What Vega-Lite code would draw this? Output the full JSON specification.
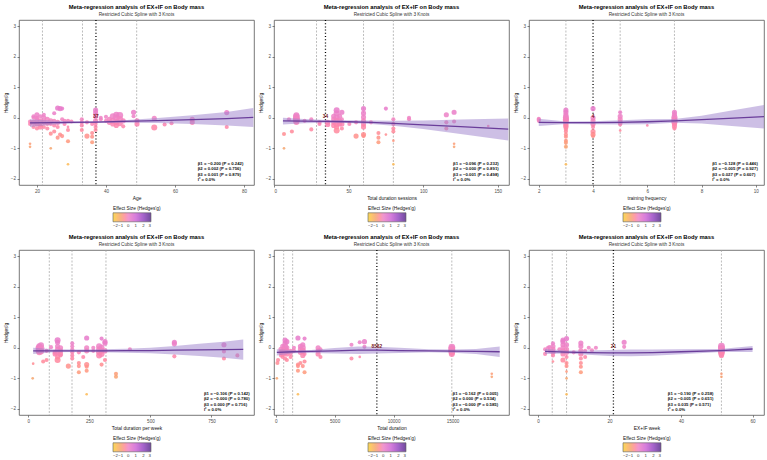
{
"$schema": "https://vega.github.io/schema/vega-lite/v6.json",
"padding": {"left": 2, "top": 3, "right": 0, "bottom": 0},
"config": {
 "font": "Liberation Sans",
 "view": {"stroke": "#555", "strokeWidth": 0.8},
 "axis": {"grid": false, "domain": false, "tickSize": 2, "tickColor": "#333", "tickWidth": 0.6, "labelFontSize": 4.6, "labelColor": "#4d4d4d", "titleFontSize": 4.9, "titleFontWeight": "normal", "titleColor": "#111", "labelPadding": 1.5, "titlePadding": 2, "labelOverlap": false, "labelBound": false},
 "axisY": {"values": [-2,-1,0,1,2,3], "tickCount": 6},
 "title": {"fontSize": 5.8, "fontWeight": "bold", "subtitleFontSize": 4.7, "subtitleColor": "#333", "offset": 3, "subtitlePadding": 2, "anchor": "middle"},
 "legend": {"titleFontSize": 4.8, "titleFontWeight": "normal", "labelFontSize": 4.3, "gradientStrokeColor": "#444", "gradientStrokeWidth": 0.6, "titlePadding": 2, "labelOffset": 1, "titleColor": "#111", "labelColor": "#333", "labelOverlap": false}
},
"datasets": {
"vl": [
 {"p":1,"x":21.6,"k":"knot"},{"p":1,"x":33.2,"k":"knot"},{"p":1,"x":48.9,"k":"knot"},{"p":1,"x":37.1,"k":"ref","lab":"37","y":0.01},
 {"p":2,"x":28.5,"k":"knot"},{"p":2,"x":60,"k":"knot"},{"p":2,"x":80,"k":"knot"},{"p":2,"x":34.5,"k":"ref","lab":"34","y":0.01},
 {"p":3,"x":3,"k":"knot"},{"p":3,"x":5,"k":"knot"},{"p":3,"x":7,"k":"knot"},{"p":3,"x":4,"k":"ref","lab":"4","y":0.01},
 {"p":4,"x":86,"k":"knot"},{"p":4,"x":179,"k":"knot"},{"p":4,"x":318,"k":"knot"},
 {"p":5,"x":680,"k":"knot"},{"p":5,"x":1440,"k":"knot"},{"p":5,"x":14940,"k":"knot"},{"p":5,"x":8582,"k":"ref","lab":"8582","y":0.01},
 {"p":6,"x":4,"k":"knot"},{"p":6,"x":8,"k":"knot"},{"p":6,"x":51.3,"k":"knot"},{"p":6,"x":21.1,"k":"ref","lab":"21","y":0.01}
],
"st": [
 {"p":1,"x":66.6,"y":-1.5,"t":"β1 = −0.200 (P = 0.242)"},{"p":1,"x":66.6,"y":-1.68,"t":"β2 = 0.002 (P = 0.756)"},{"p":1,"x":66.6,"y":-1.86,"t":"β3 = 0.001 (P = 0.879)"},{"p":1,"x":66.6,"y":-2.04,"t":"I² = 0.0%"},
 {"p":2,"x":120,"y":-1.5,"t":"β1 = −0.096 (P = 0.232)"},{"p":2,"x":120,"y":-1.68,"t":"β2 = −0.000 (P = 0.891)"},{"p":2,"x":120,"y":-1.86,"t":"β3 = −0.001 (P = 0.498)"},{"p":2,"x":120,"y":-2.04,"t":"I² = 0.0%"},
 {"p":3,"x":8.39,"y":-1.5,"t":"β1 = −0.128 (P = 0.446)"},{"p":3,"x":8.39,"y":-1.68,"t":"β2 = −0.005 (P = 0.927)"},{"p":3,"x":8.39,"y":-1.86,"t":"β3 = 0.027 (P = 0.607)"},{"p":3,"x":8.39,"y":-2.04,"t":"I² = 0.0%"},
 {"p":4,"x":719,"y":-1.5,"t":"β1 = −0.106 (P = 0.142)"},{"p":4,"x":719,"y":-1.68,"t":"β2 = −0.000 (P = 0.780)"},{"p":4,"x":719,"y":-1.86,"t":"β3 = 0.000 (P = 0.716)"},{"p":4,"x":719,"y":-2.04,"t":"I² = 0.0%"},
 {"p":5,"x":15000,"y":-1.5,"t":"β1 = −0.162 (P = 0.005)"},{"p":5,"x":15000,"y":-1.68,"t":"β2 = 0.000 (P = 0.534)"},{"p":5,"x":15000,"y":-1.86,"t":"β3 = −0.000 (P = 0.585)"},{"p":5,"x":15000,"y":-2.04,"t":"I² = 0.0%"},
 {"p":6,"x":36.3,"y":-1.5,"t":"β1 = −0.190 (P = 0.258)"},{"p":6,"x":36.3,"y":-1.68,"t":"β2 = −0.005 (P = 0.651)"},{"p":6,"x":36.3,"y":-1.86,"t":"β3 = 0.035 (P = 0.571)"},{"p":6,"x":36.3,"y":-2.04,"t":"I² = 0.0%"}
],
"fit": [
 {"p":1,"x":18,"y":-0.17,"lo":-0.3,"hi":-0.05},{"p":1,"x":25,"y":-0.16,"lo":-0.22,"hi":-0.1},{"p":1,"x":30,"y":-0.15,"lo":-0.19,"hi":-0.11},{"p":1,"x":37,"y":-0.14,"lo":-0.17,"hi":-0.11},{"p":1,"x":45,"y":-0.12,"lo":-0.16,"hi":-0.08},{"p":1,"x":55,"y":-0.09,"lo":-0.17,"hi":-0.01},{"p":1,"x":65,"y":-0.06,"lo":-0.2,"hi":0.08},{"p":1,"x":75,"y":-0.03,"lo":-0.25,"hi":0.19},{"p":1,"x":82.7,"y":0.01,"lo":-0.3,"hi":0.32},
 {"p":2,"x":6,"y":-0.1,"lo":-0.22,"hi":0.0},{"p":2,"x":20,"y":-0.11,"lo":-0.18,"hi":-0.04},{"p":2,"x":35,"y":-0.12,"lo":-0.16,"hi":-0.07},{"p":2,"x":50,"y":-0.13,"lo":-0.17,"hi":-0.08},{"p":2,"x":65,"y":-0.15,"lo":-0.2,"hi":-0.09},{"p":2,"x":80,"y":-0.18,"lo":-0.26,"hi":-0.1},{"p":2,"x":100,"y":-0.23,"lo":-0.37,"hi":-0.09},{"p":2,"x":125,"y":-0.29,"lo":-0.53,"hi":-0.06},{"p":2,"x":157,"y":-0.37,"lo":-0.74,"hi":-0.02},
 {"p":3,"x":2,"y":-0.15,"lo":-0.27,"hi":-0.03},{"p":3,"x":3,"y":-0.16,"lo":-0.2,"hi":-0.12},{"p":3,"x":4,"y":-0.16,"lo":-0.21,"hi":-0.11},{"p":3,"x":5,"y":-0.15,"lo":-0.22,"hi":-0.08},{"p":3,"x":6,"y":-0.13,"lo":-0.21,"hi":-0.05},{"p":3,"x":7,"y":-0.1,"lo":-0.16,"hi":-0.04},{"p":3,"x":8,"y":-0.06,"lo":-0.19,"hi":0.07},{"p":3,"x":9,"y":-0.02,"lo":-0.26,"hi":0.22},{"p":3,"x":10.3,"y":0.04,"lo":-0.35,"hi":0.42},
 {"p":4,"x":20,"y":-0.1,"lo":-0.2,"hi":0.0},{"p":4,"x":100,"y":-0.1,"lo":-0.15,"hi":-0.05},{"p":4,"x":200,"y":-0.1,"lo":-0.14,"hi":-0.06},{"p":4,"x":300,"y":-0.1,"lo":-0.15,"hi":-0.05},{"p":4,"x":400,"y":-0.09,"lo":-0.16,"hi":-0.03},{"p":4,"x":500,"y":-0.09,"lo":-0.18,"hi":0.0},{"p":4,"x":600,"y":-0.08,"lo":-0.22,"hi":0.06},{"p":4,"x":700,"y":-0.07,"lo":-0.27,"hi":0.13},{"p":4,"x":800,"y":-0.06,"lo":-0.33,"hi":0.2},{"p":4,"x":880,"y":-0.05,"lo":-0.39,"hi":0.27},
 {"p":5,"x":100,"y":-0.15,"lo":-0.25,"hi":-0.05},{"p":5,"x":1500,"y":-0.13,"lo":-0.18,"hi":-0.08},{"p":5,"x":3000,"y":-0.12,"lo":-0.17,"hi":-0.07},{"p":5,"x":5000,"y":-0.1,"lo":-0.19,"hi":-0.01},{"p":5,"x":7000,"y":-0.08,"lo":-0.2,"hi":0.04},{"p":5,"x":8582,"y":-0.08,"lo":-0.19,"hi":0.03},{"p":5,"x":10500,"y":-0.09,"lo":-0.17,"hi":0.0},{"p":5,"x":13000,"y":-0.1,"lo":-0.15,"hi":-0.05},{"p":5,"x":15000,"y":-0.11,"lo":-0.16,"hi":-0.06},{"p":5,"x":17000,"y":-0.12,"lo":-0.2,"hi":-0.04},{"p":5,"x":19000,"y":-0.13,"lo":-0.3,"hi":0.04},
 {"p":6,"x":2,"y":-0.12,"lo":-0.2,"hi":-0.04},{"p":6,"x":8,"y":-0.14,"lo":-0.19,"hi":-0.09},{"p":6,"x":14,"y":-0.16,"lo":-0.23,"hi":-0.09},{"p":6,"x":20,"y":-0.17,"lo":-0.27,"hi":-0.07},{"p":6,"x":26,"y":-0.17,"lo":-0.28,"hi":-0.06},{"p":6,"x":32,"y":-0.16,"lo":-0.26,"hi":-0.06},{"p":6,"x":40,"y":-0.13,"lo":-0.21,"hi":-0.05},{"p":6,"x":51,"y":-0.09,"lo":-0.14,"hi":-0.04},{"p":6,"x":60,"y":-0.04,"lo":-0.14,"hi":0.06}
],
"pts": [
 {"p":1,"x":18,"y":-0.12,"w":2},{"p":1,"x":18,"y":-0.85,"w":1},{"p":1,"x":18,"y":-0.95,"w":1},{"p":1,"x":18,"y":-0.2,"w":2},
 {"p":1,"x":19,"y":0.0,"w":2},{"p":1,"x":19,"y":-0.15,"w":3},{"p":1,"x":19,"y":-0.3,"w":2},{"p":1,"x":19,"y":0.05,"w":2},
 {"p":1,"x":20,"y":0.1,"w":3},{"p":1,"x":20,"y":-0.05,"w":3},{"p":1,"x":20,"y":-0.2,"w":3},{"p":1,"x":20,"y":-0.35,"w":2},{"p":1,"x":20,"y":0.0,"w":2},
 {"p":1,"x":21,"y":-0.1,"w":3},{"p":1,"x":21,"y":0.05,"w":2},{"p":1,"x":21,"y":-0.25,"w":2},{"p":1,"x":21,"y":-0.3,"w":3},
 {"p":1,"x":22,"y":0.0,"w":3},{"p":1,"x":22,"y":-0.15,"w":3},{"p":1,"x":22,"y":-0.3,"w":2},{"p":1,"x":22,"y":0.1,"w":2},
 {"p":1,"x":23,"y":-0.05,"w":3},{"p":1,"x":23,"y":-0.2,"w":2},{"p":1,"x":23,"y":-0.35,"w":2},
 {"p":1,"x":24,"y":-0.52,"w":2},{"p":1,"x":24,"y":-1.0,"w":1},{"p":1,"x":24,"y":-0.1,"w":3},{"p":1,"x":24,"y":-0.2,"w":2},
 {"p":1,"x":25,"y":0.15,"w":2},{"p":1,"x":25,"y":-0.45,"w":2},{"p":1,"x":25,"y":-0.1,"w":2},{"p":1,"x":25,"y":-0.25,"w":2},
 {"p":1,"x":26,"y":0.32,"w":3},{"p":1,"x":26,"y":-0.65,"w":2},{"p":1,"x":26,"y":-0.15,"w":3},{"p":1,"x":26,"y":-0.3,"w":2},
 {"p":1,"x":26.7,"y":0.3,"w":3},{"p":1,"x":26.7,"y":-0.55,"w":2},
 {"p":1,"x":27.3,"y":0.3,"w":2},{"p":1,"x":27.3,"y":-0.6,"w":2},{"p":1,"x":27.3,"y":-0.05,"w":2},
 {"p":1,"x":28,"y":-0.1,"w":2},{"p":1,"x":28,"y":-0.2,"w":2},
 {"p":1,"x":29,"y":-1.52,"w":1},{"p":1,"x":29,"y":-0.77,"w":2},{"p":1,"x":29,"y":-0.1,"w":2},{"p":1,"x":29,"y":-0.4,"w":2},{"p":1,"x":29,"y":-0.3,"w":1},
 {"p":1,"x":30,"y":-0.12,"w":2},
 {"p":1,"x":33,"y":-0.05,"w":2},{"p":1,"x":33,"y":-0.15,"w":2},{"p":1,"x":33,"y":-0.25,"w":2},{"p":1,"x":33,"y":-0.4,"w":2},
 {"p":1,"x":34.5,"y":-0.6,"w":3},{"p":1,"x":34.5,"y":-0.15,"w":2},
 {"p":1,"x":36,"y":-0.5,"w":2},{"p":1,"x":36,"y":-0.8,"w":2},{"p":1,"x":36,"y":-0.62,"w":2},{"p":1,"x":36,"y":-0.2,"w":2},
 {"p":1,"x":37,"y":0.25,"w":3},{"p":1,"x":37,"y":0.15,"w":3},{"p":1,"x":37,"y":0.05,"w":3},{"p":1,"x":37,"y":-0.1,"w":3},{"p":1,"x":37,"y":-0.2,"w":2},{"p":1,"x":37,"y":-0.3,"w":2},{"p":1,"x":37,"y":-0.4,"w":2},
 {"p":1,"x":38.5,"y":-0.05,"w":2},{"p":1,"x":38.5,"y":0.0,"w":2},
 {"p":1,"x":40,"y":0.03,"w":2},{"p":1,"x":40,"y":-0.1,"w":2},
 {"p":1,"x":41,"y":-0.05,"w":3},{"p":1,"x":41,"y":-0.15,"w":3},
 {"p":1,"x":42,"y":0.05,"w":4},{"p":1,"x":42,"y":-0.1,"w":4},{"p":1,"x":42,"y":-0.2,"w":3},
 {"p":1,"x":43,"y":0.1,"w":4},{"p":1,"x":43,"y":0.0,"w":5},{"p":1,"x":43,"y":-0.15,"w":4},{"p":1,"x":43,"y":-0.25,"w":3},
 {"p":1,"x":44,"y":0.08,"w":5},{"p":1,"x":44,"y":-0.05,"w":5},{"p":1,"x":44,"y":-0.18,"w":4},
 {"p":1,"x":45,"y":-0.1,"w":3},{"p":1,"x":45,"y":-0.28,"w":2},
 {"p":1,"x":48,"y":0.18,"w":3},{"p":1,"x":48,"y":0.05,"w":2},
 {"p":1,"x":49,"y":-0.1,"w":3},{"p":1,"x":49,"y":-0.2,"w":3},
 {"p":1,"x":54,"y":-0.02,"w":3},{"p":1,"x":54,"y":-0.32,"w":4},
 {"p":1,"x":57,"y":-0.22,"w":2},{"p":1,"x":59,"y":-0.18,"w":2},
 {"p":1,"x":65,"y":-0.05,"w":3},{"p":1,"x":65,"y":-0.15,"w":3},
 {"p":1,"x":75,"y":0.17,"w":3},{"p":1,"x":75,"y":-0.3,"w":2},

 {"p":2,"x":6.7,"y":-0.53,"w":2},{"p":2,"x":6.7,"y":-1.0,"w":1},
 {"p":2,"x":10,"y":-0.05,"w":2},{"p":2,"x":12,"y":-0.45,"w":2},
 {"p":2,"x":15,"y":0.08,"w":4},{"p":2,"x":15,"y":0.03,"w":5},{"p":2,"x":15,"y":-0.03,"w":5},{"p":2,"x":15,"y":-0.08,"w":5},{"p":2,"x":15,"y":-0.14,"w":4},{"p":2,"x":15,"y":-0.05,"w":4},
 {"p":2,"x":20.5,"y":-0.1,"w":2},
 {"p":2,"x":25,"y":-0.05,"w":2},{"p":2,"x":25,"y":-0.38,"w":2},
 {"p":2,"x":30.5,"y":-0.15,"w":2},{"p":2,"x":30.5,"y":-0.2,"w":2},
 {"p":2,"x":36,"y":-0.15,"w":3},{"p":2,"x":36,"y":-0.22,"w":3},
 {"p":2,"x":40,"y":0.05,"w":3},{"p":2,"x":40,"y":-0.05,"w":3},{"p":2,"x":40,"y":-0.15,"w":3},{"p":2,"x":40,"y":-0.25,"w":3},
 {"p":2,"x":42,"y":0.25,"w":4},{"p":2,"x":42,"y":0.15,"w":4},{"p":2,"x":42,"y":0.0,"w":4},{"p":2,"x":42,"y":-0.1,"w":4},{"p":2,"x":42,"y":-0.2,"w":4},{"p":2,"x":42,"y":-0.3,"w":3},{"p":2,"x":42,"y":-0.42,"w":4},
 {"p":2,"x":44,"y":0.05,"w":3},{"p":2,"x":44,"y":-0.1,"w":3},{"p":2,"x":44,"y":-0.2,"w":3},
 {"p":2,"x":45.5,"y":0.18,"w":3},{"p":2,"x":45.5,"y":-0.05,"w":2},{"p":2,"x":45.5,"y":-0.2,"w":3},{"p":2,"x":45.5,"y":-0.35,"w":2},
 {"p":2,"x":50.5,"y":-0.2,"w":2},
 {"p":2,"x":55,"y":-0.15,"w":2},{"p":2,"x":55,"y":-0.6,"w":3},
 {"p":2,"x":60,"y":0.3,"w":3},{"p":2,"x":60,"y":0.15,"w":3},{"p":2,"x":60,"y":0.02,"w":3},{"p":2,"x":60,"y":-0.1,"w":3},{"p":2,"x":60,"y":-0.2,"w":3},{"p":2,"x":60,"y":-0.3,"w":3},{"p":2,"x":60,"y":-0.55,"w":3},{"p":2,"x":60,"y":-0.6,"w":2},
 {"p":2,"x":65,"y":-0.15,"w":2},
 {"p":2,"x":70,"y":-0.5,"w":2},{"p":2,"x":70,"y":-0.65,"w":2},{"p":2,"x":70,"y":-0.8,"w":2},
 {"p":2,"x":75,"y":0.3,"w":2},{"p":2,"x":75,"y":-0.55,"w":1},
 {"p":2,"x":80,"y":-0.05,"w":2},{"p":2,"x":80,"y":-0.2,"w":2},{"p":2,"x":80,"y":-0.35,"w":2},{"p":2,"x":80,"y":-0.45,"w":2},{"p":2,"x":80,"y":-0.75,"w":1},{"p":2,"x":80,"y":-1.52,"w":1},
 {"p":2,"x":90.5,"y":0.0,"w":2},{"p":2,"x":90.5,"y":-0.05,"w":2},
 {"p":2,"x":115.5,"y":0.1,"w":3},{"p":2,"x":115.5,"y":-0.15,"w":2},{"p":2,"x":115.5,"y":-0.35,"w":2},
 {"p":2,"x":120.7,"y":0.18,"w":3},{"p":2,"x":120.7,"y":-0.12,"w":2},{"p":2,"x":120.7,"y":-0.85,"w":1},{"p":2,"x":120.7,"y":-0.95,"w":1},
 {"p":2,"x":143.6,"y":-0.27,"w":1},

 {"p":3,"x":2,"y":-0.03,"w":2},{"p":3,"x":2,"y":-0.1,"w":2},{"p":3,"x":2,"y":-0.06,"w":2},
 {"p":3,"x":3,"y":0.25,"w":3},{"p":3,"x":3,"y":0.18,"w":3},{"p":3,"x":3,"y":0.1,"w":3},{"p":3,"x":3,"y":0.05,"w":3},{"p":3,"x":3,"y":0.0,"w":4},{"p":3,"x":3,"y":-0.05,"w":4},{"p":3,"x":3,"y":-0.1,"w":4},{"p":3,"x":3,"y":-0.15,"w":3},{"p":3,"x":3,"y":-0.2,"w":3},{"p":3,"x":3,"y":-0.25,"w":3},{"p":3,"x":3,"y":-0.3,"w":3},{"p":3,"x":3,"y":-0.38,"w":2},{"p":3,"x":3,"y":-0.45,"w":2},{"p":3,"x":3,"y":-0.55,"w":2},{"p":3,"x":3,"y":-0.62,"w":2},{"p":3,"x":3,"y":-0.75,"w":2},{"p":3,"x":3,"y":-0.82,"w":2},{"p":3,"x":3,"y":-0.95,"w":2},{"p":3,"x":3,"y":-1.52,"w":1},
 {"p":3,"x":4,"y":0.3,"w":3},{"p":3,"x":4,"y":0.0,"w":3},{"p":3,"x":4,"y":-0.1,"w":3},{"p":3,"x":4,"y":-0.2,"w":3},{"p":3,"x":4,"y":-0.3,"w":2},{"p":3,"x":4,"y":-0.45,"w":3},{"p":3,"x":4,"y":-0.55,"w":3},{"p":3,"x":4,"y":-0.6,"w":2},
 {"p":3,"x":5,"y":0.18,"w":2},{"p":3,"x":5,"y":0.05,"w":3},{"p":3,"x":5,"y":-0.05,"w":3},{"p":3,"x":5,"y":-0.15,"w":3},{"p":3,"x":5,"y":-0.22,"w":2},{"p":3,"x":5,"y":-0.42,"w":1},
 {"p":3,"x":6,"y":-0.25,"w":1},
 {"p":3,"x":7,"y":0.18,"w":3},{"p":3,"x":7,"y":0.1,"w":3},{"p":3,"x":7,"y":0.02,"w":4},{"p":3,"x":7,"y":-0.05,"w":4},{"p":3,"x":7,"y":-0.1,"w":4},{"p":3,"x":7,"y":-0.15,"w":4},{"p":3,"x":7,"y":-0.2,"w":3},{"p":3,"x":7,"y":-0.28,"w":3},{"p":3,"x":7,"y":-0.35,"w":2},

 {"p":4,"x":18,"y":-1.0,"w":1},{"p":4,"x":20,"y":-0.52,"w":1},
 {"p":4,"x":40,"y":0.0,"w":3},{"p":4,"x":40,"y":-0.1,"w":3},
 {"p":4,"x":45,"y":0.05,"w":4},{"p":4,"x":45,"y":-0.05,"w":5},{"p":4,"x":45,"y":-0.15,"w":4},{"p":4,"x":45,"y":0.02,"w":4},
 {"p":4,"x":52,"y":0.08,"w":4},{"p":4,"x":52,"y":-0.02,"w":5},{"p":4,"x":52,"y":-0.12,"w":4},
 {"p":4,"x":61,"y":-0.45,"w":2},
 {"p":4,"x":75,"y":-0.1,"w":2},{"p":4,"x":75,"y":-0.4,"w":2},
 {"p":4,"x":93,"y":0.02,"w":2},
 {"p":4,"x":110,"y":-0.15,"w":3},{"p":4,"x":110,"y":-0.2,"w":3},
 {"p":4,"x":120,"y":0.25,"w":4},{"p":4,"x":120,"y":0.18,"w":3},{"p":4,"x":120,"y":0.05,"w":3},{"p":4,"x":120,"y":-0.05,"w":3},{"p":4,"x":120,"y":-0.15,"w":3},{"p":4,"x":120,"y":-0.3,"w":3},{"p":4,"x":120,"y":-0.4,"w":4},
 {"p":4,"x":132,"y":0.0,"w":3},{"p":4,"x":132,"y":-0.1,"w":3},{"p":4,"x":132,"y":-0.2,"w":3},{"p":4,"x":132,"y":-0.25,"w":2},
 {"p":4,"x":164,"y":-0.6,"w":3},
 {"p":4,"x":180,"y":0.15,"w":2},{"p":4,"x":180,"y":0.05,"w":2},{"p":4,"x":180,"y":-0.05,"w":2},{"p":4,"x":180,"y":-0.15,"w":2},{"p":4,"x":180,"y":-0.25,"w":2},{"p":4,"x":180,"y":-0.35,"w":2},
 {"p":4,"x":207,"y":-0.15,"w":2},{"p":4,"x":207,"y":-0.5,"w":2},{"p":4,"x":207,"y":-0.6,"w":2},{"p":4,"x":207,"y":-0.8,"w":2},
 {"p":4,"x":225,"y":-0.3,"w":2},
 {"p":4,"x":239,"y":0.32,"w":3},{"p":4,"x":239,"y":0.0,"w":3},{"p":4,"x":239,"y":-0.1,"w":3},{"p":4,"x":239,"y":-0.55,"w":3},{"p":4,"x":239,"y":-0.62,"w":2},{"p":4,"x":239,"y":-0.75,"w":2},{"p":4,"x":239,"y":-1.52,"w":1},
 {"p":4,"x":266,"y":-0.1,"w":2},{"p":4,"x":266,"y":0.0,"w":2},
 {"p":4,"x":290,"y":0.05,"w":4},{"p":4,"x":290,"y":-0.05,"w":4},{"p":4,"x":290,"y":-0.15,"w":4},{"p":4,"x":290,"y":-0.25,"w":4},
 {"p":4,"x":300,"y":0.3,"w":2},{"p":4,"x":300,"y":0.0,"w":4},{"p":4,"x":300,"y":-0.1,"w":4},{"p":4,"x":300,"y":-0.2,"w":4},{"p":4,"x":300,"y":-0.55,"w":2},
 {"p":4,"x":314,"y":0.2,"w":3},{"p":4,"x":314,"y":0.15,"w":3},{"p":4,"x":314,"y":-0.1,"w":3},{"p":4,"x":314,"y":-0.4,"w":2},
 {"p":4,"x":359,"y":-0.85,"w":2},{"p":4,"x":359,"y":-0.95,"w":2},
 {"p":4,"x":416,"y":-0.05,"w":2},
 {"p":4,"x":598,"y":0.18,"w":3},{"p":4,"x":598,"y":0.13,"w":3},{"p":4,"x":598,"y":-0.28,"w":2},
 {"p":4,"x":801,"y":0.1,"w":3},{"p":4,"x":801,"y":-0.12,"w":2},{"p":4,"x":801,"y":-0.35,"w":2},
 {"p":4,"x":856,"y":-0.25,"w":2},

 {"p":5,"x":100,"y":-1.0,"w":1},{"p":5,"x":150,"y":-0.5,"w":2},{"p":5,"x":200,"y":-0.4,"w":2},
 {"p":5,"x":450,"y":-0.05,"w":3},{"p":5,"x":450,"y":-0.15,"w":3},{"p":5,"x":450,"y":-0.25,"w":2},
 {"p":5,"x":600,"y":0.05,"w":3},{"p":5,"x":600,"y":-0.1,"w":3},{"p":5,"x":600,"y":-0.2,"w":3},{"p":5,"x":600,"y":-0.3,"w":2},
 {"p":5,"x":800,"y":0.25,"w":3},{"p":5,"x":800,"y":0.15,"w":3},{"p":5,"x":800,"y":0.05,"w":4},{"p":5,"x":800,"y":-0.05,"w":4},{"p":5,"x":800,"y":-0.15,"w":4},{"p":5,"x":800,"y":-0.35,"w":2},
 {"p":5,"x":950,"y":0.2,"w":3},{"p":5,"x":950,"y":0.0,"w":3},{"p":5,"x":950,"y":-0.1,"w":3},{"p":5,"x":950,"y":-0.2,"w":3},{"p":5,"x":950,"y":-0.4,"w":2},
 {"p":5,"x":1270,"y":-0.1,"w":2},{"p":5,"x":1270,"y":-0.2,"w":2},{"p":5,"x":1270,"y":-0.3,"w":2},
 {"p":5,"x":1550,"y":0.0,"w":2},{"p":5,"x":1550,"y":-0.1,"w":2},
 {"p":5,"x":1890,"y":0.32,"w":3},{"p":5,"x":1890,"y":-0.55,"w":2},{"p":5,"x":1890,"y":-0.6,"w":2},{"p":5,"x":1890,"y":-0.75,"w":2},{"p":5,"x":1890,"y":-1.52,"w":1},
 {"p":5,"x":2100,"y":0.05,"w":3},{"p":5,"x":2100,"y":-0.05,"w":3},{"p":5,"x":2100,"y":-0.15,"w":3},{"p":5,"x":2100,"y":-0.5,"w":2},
 {"p":5,"x":2300,"y":0.1,"w":3},{"p":5,"x":2300,"y":0.0,"w":4},{"p":5,"x":2300,"y":-0.1,"w":4},{"p":5,"x":2300,"y":-0.25,"w":3},{"p":5,"x":2300,"y":-0.6,"w":2},
 {"p":5,"x":2450,"y":0.3,"w":2},{"p":5,"x":2450,"y":-0.2,"w":2},{"p":5,"x":2450,"y":-0.45,"w":2},{"p":5,"x":2450,"y":-0.8,"w":2},
 {"p":5,"x":3600,"y":0.0,"w":3},{"p":5,"x":3600,"y":-0.1,"w":3},{"p":5,"x":3600,"y":-0.2,"w":3},
 {"p":5,"x":3800,"y":-0.05,"w":2},{"p":5,"x":3800,"y":-0.3,"w":2},
 {"p":5,"x":6430,"y":0.1,"w":2},{"p":5,"x":6430,"y":-0.35,"w":2},
 {"p":5,"x":7130,"y":0.18,"w":2},{"p":5,"x":7130,"y":-0.3,"w":1},
 {"p":5,"x":7530,"y":0.2,"w":3},{"p":5,"x":7530,"y":0.03,"w":2},
 {"p":5,"x":14940,"y":0.02,"w":5},{"p":5,"x":14940,"y":-0.03,"w":5},{"p":5,"x":14940,"y":-0.08,"w":5},{"p":5,"x":14940,"y":-0.12,"w":5},{"p":5,"x":14940,"y":-0.16,"w":4},{"p":5,"x":14940,"y":-0.2,"w":4},
 {"p":5,"x":18330,"y":-0.85,"w":1},{"p":5,"x":18330,"y":-0.95,"w":1},

 {"p":6,"x":2,"y":-0.05,"w":2},{"p":6,"x":2,"y":-0.2,"w":2},
 {"p":6,"x":2.8,"y":0.0,"w":2},
 {"p":6,"x":3.2,"y":0.02,"w":2},{"p":6,"x":3.2,"y":-0.1,"w":2},
 {"p":6,"x":4.2,"y":0.15,"w":2},{"p":6,"x":4.2,"y":0.05,"w":3},{"p":6,"x":4.2,"y":-0.05,"w":3},{"p":6,"x":4.2,"y":-0.15,"w":3},{"p":6,"x":4.2,"y":-0.25,"w":2},{"p":6,"x":4.2,"y":-0.45,"w":1},
 {"p":6,"x":6,"y":-0.05,"w":2},
 {"p":6,"x":7,"y":0.25,"w":3},{"p":6,"x":7,"y":0.2,"w":3},{"p":6,"x":7,"y":0.1,"w":3},{"p":6,"x":7,"y":0.0,"w":3},{"p":6,"x":7,"y":-0.1,"w":3},{"p":6,"x":7,"y":-0.2,"w":3},{"p":6,"x":7,"y":-0.4,"w":3},
 {"p":6,"x":8,"y":0.3,"w":3},{"p":6,"x":8,"y":0.1,"w":3},{"p":6,"x":8,"y":-0.05,"w":3},{"p":6,"x":8,"y":-0.15,"w":3},{"p":6,"x":8,"y":-0.3,"w":2},{"p":6,"x":8,"y":-0.5,"w":2},{"p":6,"x":8,"y":-0.6,"w":2},{"p":6,"x":8,"y":-0.78,"w":1},{"p":6,"x":8,"y":-1.0,"w":1},{"p":6,"x":8,"y":-1.52,"w":1},
 {"p":6,"x":10,"y":-0.15,"w":2},
 {"p":6,"x":12,"y":0.15,"w":3},{"p":6,"x":12,"y":0.05,"w":3},{"p":6,"x":12,"y":-0.1,"w":3},{"p":6,"x":12,"y":-0.2,"w":3},{"p":6,"x":12,"y":-0.35,"w":2},{"p":6,"x":12,"y":-0.5,"w":2},{"p":6,"x":12,"y":-0.62,"w":2},{"p":6,"x":12,"y":-0.8,"w":2},
 {"p":6,"x":13.2,"y":-0.1,"w":2},{"p":6,"x":13.2,"y":-0.3,"w":2},
 {"p":6,"x":14.2,"y":0.0,"w":2},{"p":6,"x":15.1,"y":-0.08,"w":2},{"p":6,"x":16.2,"y":0.0,"w":2},
 {"p":6,"x":24.1,"y":0.18,"w":3},{"p":6,"x":24.1,"y":0.03,"w":2},
 {"p":6,"x":51.3,"y":0.05,"w":5},{"p":6,"x":51.3,"y":0.0,"w":5},{"p":6,"x":51.3,"y":-0.05,"w":5},{"p":6,"x":51.3,"y":-0.1,"w":5},{"p":6,"x":51.3,"y":-0.15,"w":5},{"p":6,"x":51.3,"y":-0.2,"w":4},{"p":6,"x":51.3,"y":-0.25,"w":3},{"p":6,"x":51.3,"y":-0.85,"w":1},{"p":6,"x":51.3,"y":-0.95,"w":1}
]
},
"columns": 3,
"bounds": "flush",
"spacing": {"row": 65, "column": 20},
"resolve": {"scale": {"x": "independent", "y": "independent", "color": "independent", "size": "independent"}, "legend": {"color": "independent"}},
"concat": [
{
 "width": 235, "height": 165,
 "title": {"text": "Meta-regression analysis of EX+IF on Body mass", "subtitle": "Restricted Cubic Spline with 3 Knots"},
 "layer": [
  {"data":{"name":"vl"},"transform":[{"filter":"datum.p==1 && datum.k=='knot'"}],"mark":{"type":"rule","color":"#a0a0a0","strokeWidth":0.7,"strokeDash":[2,1.5]},"encoding":{"x":{"field":"x","type":"quantitative","title":"Age"}}},
  {"data":{"name":"vl"},"transform":[{"filter":"datum.p==1 && datum.k=='ref'"}],"mark":{"type":"rule","color":"#000","strokeWidth":1.3,"strokeDash":[1,2.2]},"encoding":{"x":{"field":"x","type":"quantitative","title":"Age"}}},
  {"data":{"name":"pts"},"transform":[{"filter":"datum.p==1"}],"mark":{"type":"circle","opacity":0.85},"encoding":{
    "x":{"field":"x","type":"quantitative","title":"Age","scale":{"domain":[14.8,82.9],"nice":false,"zero":false},"axis":{"values":[20,40,60,80]}},
    "y":{"field":"y","type":"quantitative","title":"Hedges'g","scale":{"domain":[-2.2,3.2],"nice":false,"zero":false},"axis":{"values":[-2,-1,0,1,2,3]}},
    "color":{"field":"y","type":"quantitative","scale":{"domain":[-2,-1,0,1,2,3],"range":["#F7D23A","#F5A56E","#EE84C6","#CF67D6","#9549C2","#5A2D8C"]},"legend":{"orient":"none","legendX":94,"legendY":186,"direction":"horizontal","title":"Effect Size (Hedges'g)","gradientLength":38,"gradientThickness":9,"values":[-2,-1,0,1,2,3]}},
    "size":{"field":"w","type":"quantitative","scale":{"domain":[1,5],"range":[7,46]},"legend":null}}},
  {"data":{"name":"fit"},"transform":[{"filter":"datum.p==1"}],"mark":{"type":"area","color":"#9b7fcc","opacity":0.5},"encoding":{"x":{"field":"x","type":"quantitative","title":"Age"},"y":{"field":"lo","type":"quantitative","title":"Hedges'g","axis":{"values":[-2,-1,0,1,2,3]}},"y2":{"field":"hi"}}},
  {"data":{"name":"fit"},"transform":[{"filter":"datum.p==1"}],"mark":{"type":"line","color":"#6a3d9a","strokeWidth":1.3},"encoding":{"x":{"field":"x","type":"quantitative","title":"Age"},"y":{"field":"y","type":"quantitative","title":"Hedges'g","axis":{"values":[-2,-1,0,1,2,3]}}}},
  {"data":{"name":"vl"},"transform":[{"filter":"datum.p==1 && datum.k=='ref'"}],"mark":{"type":"text","color":"#7a1f1f","fontSize":4.8,"fontWeight":"bold"},"encoding":{"x":{"field":"x","type":"quantitative","title":"Age"},"y":{"field":"y","type":"quantitative","title":"Hedges'g","axis":{"values":[-2,-1,0,1,2,3]}},"text":{"field":"lab"}}},
  {"data":{"name":"st"},"transform":[{"filter":"datum.p==1"}],"mark":{"type":"text","align":"left","fontSize":4.3,"fontWeight":"bold","color":"#111"},"encoding":{"x":{"field":"x","type":"quantitative","title":"Age"},"y":{"field":"y","type":"quantitative","title":"Hedges'g","axis":{"values":[-2,-1,0,1,2,3]}},"text":{"field":"t"}}}
 ]
},
{
 "width": 235, "height": 165,
 "title": {"text": "Meta-regression analysis of EX+IF on Body mass", "subtitle": "Restricted Cubic Spline with 3 Knots"},
 "layer": [
  {"data":{"name":"vl"},"transform":[{"filter":"datum.p==2 && datum.k=='knot'"}],"mark":{"type":"rule","color":"#a0a0a0","strokeWidth":0.7,"strokeDash":[2,1.5]},"encoding":{"x":{"field":"x","type":"quantitative","title":"Total duration sessions"}}},
  {"data":{"name":"vl"},"transform":[{"filter":"datum.p==2 && datum.k=='ref'"}],"mark":{"type":"rule","color":"#000","strokeWidth":1.3,"strokeDash":[1,2.2]},"encoding":{"x":{"field":"x","type":"quantitative","title":"Total duration sessions"}}},
  {"data":{"name":"pts"},"transform":[{"filter":"datum.p==2"}],"mark":{"type":"circle","opacity":0.85},"encoding":{
    "x":{"field":"x","type":"quantitative","title":"Total duration sessions","scale":{"domain":[0,157.5],"nice":false,"zero":false},"axis":{"values":[0,50,100,150]}},
    "y":{"field":"y","type":"quantitative","title":"Hedges'g","scale":{"domain":[-2.2,3.2],"nice":false,"zero":false},"axis":{"values":[-2,-1,0,1,2,3]}},
    "color":{"field":"y","type":"quantitative","scale":{"domain":[-2,-1,0,1,2,3],"range":["#F7D23A","#F5A56E","#EE84C6","#CF67D6","#9549C2","#5A2D8C"]},"legend":{"orient":"none","legendX":94,"legendY":186,"direction":"horizontal","title":"Effect Size (Hedges'g)","gradientLength":38,"gradientThickness":9,"values":[-2,-1,0,1,2,3]}},
    "size":{"field":"w","type":"quantitative","scale":{"domain":[1,5],"range":[7,46]},"legend":null}}},
  {"data":{"name":"fit"},"transform":[{"filter":"datum.p==2"}],"mark":{"type":"area","color":"#9b7fcc","opacity":0.5},"encoding":{"x":{"field":"x","type":"quantitative","title":"Total duration sessions"},"y":{"field":"lo","type":"quantitative","title":"Hedges'g","axis":{"values":[-2,-1,0,1,2,3]}},"y2":{"field":"hi"}}},
  {"data":{"name":"fit"},"transform":[{"filter":"datum.p==2"}],"mark":{"type":"line","color":"#6a3d9a","strokeWidth":1.3},"encoding":{"x":{"field":"x","type":"quantitative","title":"Total duration sessions"},"y":{"field":"y","type":"quantitative","title":"Hedges'g","axis":{"values":[-2,-1,0,1,2,3]}}}},
  {"data":{"name":"vl"},"transform":[{"filter":"datum.p==2 && datum.k=='ref'"}],"mark":{"type":"text","color":"#7a1f1f","fontSize":4.8,"fontWeight":"bold"},"encoding":{"x":{"field":"x","type":"quantitative","title":"Total duration sessions"},"y":{"field":"y","type":"quantitative","title":"Hedges'g","axis":{"values":[-2,-1,0,1,2,3]}},"text":{"field":"lab"}}},
  {"data":{"name":"st"},"transform":[{"filter":"datum.p==2"}],"mark":{"type":"text","align":"left","fontSize":4.3,"fontWeight":"bold","color":"#111"},"encoding":{"x":{"field":"x","type":"quantitative","title":"Total duration sessions"},"y":{"field":"y","type":"quantitative","title":"Hedges'g","axis":{"values":[-2,-1,0,1,2,3]}},"text":{"field":"t"}}}
 ]
},
{
 "width": 235, "height": 165,
 "title": {"text": "Meta-regression analysis of EX+IF on Body mass", "subtitle": "Restricted Cubic Spline with 3 Knots"},
 "layer": [
  {"data":{"name":"vl"},"transform":[{"filter":"datum.p==3 && datum.k=='knot'"}],"mark":{"type":"rule","color":"#a0a0a0","strokeWidth":0.7,"strokeDash":[2,1.5]},"encoding":{"x":{"field":"x","type":"quantitative","title":"training frequency"}}},
  {"data":{"name":"vl"},"transform":[{"filter":"datum.p==3 && datum.k=='ref'"}],"mark":{"type":"rule","color":"#000","strokeWidth":1.3,"strokeDash":[1,2.2]},"encoding":{"x":{"field":"x","type":"quantitative","title":"training frequency"}}},
  {"data":{"name":"pts"},"transform":[{"filter":"datum.p==3"}],"mark":{"type":"circle","opacity":0.85},"encoding":{
    "x":{"field":"x","type":"quantitative","title":"training frequency","scale":{"domain":[1.64,10.3],"nice":false,"zero":false},"axis":{"values":[2,4,6,8,10]}},
    "y":{"field":"y","type":"quantitative","title":"Hedges'g","scale":{"domain":[-2.2,3.2],"nice":false,"zero":false},"axis":{"values":[-2,-1,0,1,2,3]}},
    "color":{"field":"y","type":"quantitative","scale":{"domain":[-2,-1,0,1,2,3],"range":["#F7D23A","#F5A56E","#EE84C6","#CF67D6","#9549C2","#5A2D8C"]},"legend":{"orient":"none","legendX":94,"legendY":186,"direction":"horizontal","title":"Effect Size (Hedges'g)","gradientLength":38,"gradientThickness":9,"values":[-2,-1,0,1,2,3]}},
    "size":{"field":"w","type":"quantitative","scale":{"domain":[1,5],"range":[7,46]},"legend":null}}},
  {"data":{"name":"fit"},"transform":[{"filter":"datum.p==3"}],"mark":{"type":"area","color":"#9b7fcc","opacity":0.5},"encoding":{"x":{"field":"x","type":"quantitative","title":"training frequency"},"y":{"field":"lo","type":"quantitative","title":"Hedges'g","axis":{"values":[-2,-1,0,1,2,3]}},"y2":{"field":"hi"}}},
  {"data":{"name":"fit"},"transform":[{"filter":"datum.p==3"}],"mark":{"type":"line","color":"#6a3d9a","strokeWidth":1.3},"encoding":{"x":{"field":"x","type":"quantitative","title":"training frequency"},"y":{"field":"y","type":"quantitative","title":"Hedges'g","axis":{"values":[-2,-1,0,1,2,3]}}}},
  {"data":{"name":"vl"},"transform":[{"filter":"datum.p==3 && datum.k=='ref'"}],"mark":{"type":"text","color":"#7a1f1f","fontSize":4.8,"fontWeight":"bold"},"encoding":{"x":{"field":"x","type":"quantitative","title":"training frequency"},"y":{"field":"y","type":"quantitative","title":"Hedges'g","axis":{"values":[-2,-1,0,1,2,3]}},"text":{"field":"lab"}}},
  {"data":{"name":"st"},"transform":[{"filter":"datum.p==3"}],"mark":{"type":"text","align":"left","fontSize":4.3,"fontWeight":"bold","color":"#111"},"encoding":{"x":{"field":"x","type":"quantitative","title":"training frequency"},"y":{"field":"y","type":"quantitative","title":"Hedges'g","axis":{"values":[-2,-1,0,1,2,3]}},"text":{"field":"t"}}}
 ]
},
{
 "width": 235, "height": 165,
 "title": {"text": "Meta-regression analysis of EX+IF on Body mass", "subtitle": "Restricted Cubic Spline with 3 Knots"},
 "layer": [
  {"data":{"name":"vl"},"transform":[{"filter":"datum.p==4 && datum.k=='knot'"}],"mark":{"type":"rule","color":"#a0a0a0","strokeWidth":0.7,"strokeDash":[2,1.5]},"encoding":{"x":{"field":"x","type":"quantitative","title":"Total duration per week"}}},
  {"data":{"name":"pts"},"transform":[{"filter":"datum.p==4"}],"mark":{"type":"circle","opacity":0.85},"encoding":{
    "x":{"field":"x","type":"quantitative","title":"Total duration per week","scale":{"domain":[-38,924],"nice":false,"zero":false},"axis":{"values":[0,250,500,750]}},
    "y":{"field":"y","type":"quantitative","title":"Hedges'g","scale":{"domain":[-2.2,3.2],"nice":false,"zero":false},"axis":{"values":[-2,-1,0,1,2,3]}},
    "color":{"field":"y","type":"quantitative","scale":{"domain":[-2,-1,0,1,2,3],"range":["#F7D23A","#F5A56E","#EE84C6","#CF67D6","#9549C2","#5A2D8C"]},"legend":{"orient":"none","legendX":94,"legendY":186,"direction":"horizontal","title":"Effect Size (Hedges'g)","gradientLength":38,"gradientThickness":9,"values":[-2,-1,0,1,2,3]}},
    "size":{"field":"w","type":"quantitative","scale":{"domain":[1,5],"range":[7,46]},"legend":null}}},
  {"data":{"name":"fit"},"transform":[{"filter":"datum.p==4"}],"mark":{"type":"area","color":"#9b7fcc","opacity":0.5},"encoding":{"x":{"field":"x","type":"quantitative","title":"Total duration per week"},"y":{"field":"lo","type":"quantitative","title":"Hedges'g","axis":{"values":[-2,-1,0,1,2,3]}},"y2":{"field":"hi"}}},
  {"data":{"name":"fit"},"transform":[{"filter":"datum.p==4"}],"mark":{"type":"line","color":"#6a3d9a","strokeWidth":1.3},"encoding":{"x":{"field":"x","type":"quantitative","title":"Total duration per week"},"y":{"field":"y","type":"quantitative","title":"Hedges'g","axis":{"values":[-2,-1,0,1,2,3]}}}},
  {"data":{"name":"st"},"transform":[{"filter":"datum.p==4"}],"mark":{"type":"text","align":"left","fontSize":4.3,"fontWeight":"bold","color":"#111"},"encoding":{"x":{"field":"x","type":"quantitative","title":"Total duration per week"},"y":{"field":"y","type":"quantitative","title":"Hedges'g","axis":{"values":[-2,-1,0,1,2,3]}},"text":{"field":"t"}}}
 ]
},
{
 "width": 235, "height": 165,
 "title": {"text": "Meta-regression analysis of EX+IF on Body mass", "subtitle": "Restricted Cubic Spline with 3 Knots"},
 "layer": [
  {"data":{"name":"vl"},"transform":[{"filter":"datum.p==5 && datum.k=='knot'"}],"mark":{"type":"rule","color":"#a0a0a0","strokeWidth":0.7,"strokeDash":[2,1.5]},"encoding":{"x":{"field":"x","type":"quantitative","title":"Total duration"}}},
  {"data":{"name":"vl"},"transform":[{"filter":"datum.p==5 && datum.k=='ref'"}],"mark":{"type":"rule","color":"#000","strokeWidth":1.3,"strokeDash":[1,2.2]},"encoding":{"x":{"field":"x","type":"quantitative","title":"Total duration"}}},
  {"data":{"name":"pts"},"transform":[{"filter":"datum.p==5"}],"mark":{"type":"circle","opacity":0.85},"encoding":{
    "x":{"field":"x","type":"quantitative","title":"Total duration","scale":{"domain":[-141,19790],"nice":false,"zero":false},"axis":{"values":[0,5000,10000,15000],"format":"d"}},
    "y":{"field":"y","type":"quantitative","title":"Hedges'g","scale":{"domain":[-2.2,3.2],"nice":false,"zero":false},"axis":{"values":[-2,-1,0,1,2,3]}},
    "color":{"field":"y","type":"quantitative","scale":{"domain":[-2,-1,0,1,2,3],"range":["#F7D23A","#F5A56E","#EE84C6","#CF67D6","#9549C2","#5A2D8C"]},"legend":{"orient":"none","legendX":94,"legendY":186,"direction":"horizontal","title":"Effect Size (Hedges'g)","gradientLength":38,"gradientThickness":9,"values":[-2,-1,0,1,2,3]}},
    "size":{"field":"w","type":"quantitative","scale":{"domain":[1,5],"range":[7,46]},"legend":null}}},
  {"data":{"name":"fit"},"transform":[{"filter":"datum.p==5"}],"mark":{"type":"area","color":"#9b7fcc","opacity":0.5},"encoding":{"x":{"field":"x","type":"quantitative","title":"Total duration"},"y":{"field":"lo","type":"quantitative","title":"Hedges'g","axis":{"values":[-2,-1,0,1,2,3]}},"y2":{"field":"hi"}}},
  {"data":{"name":"fit"},"transform":[{"filter":"datum.p==5"}],"mark":{"type":"line","color":"#6a3d9a","strokeWidth":1.3},"encoding":{"x":{"field":"x","type":"quantitative","title":"Total duration"},"y":{"field":"y","type":"quantitative","title":"Hedges'g","axis":{"values":[-2,-1,0,1,2,3]}}}},
  {"data":{"name":"vl"},"transform":[{"filter":"datum.p==5 && datum.k=='ref'"}],"mark":{"type":"text","color":"#7a1f1f","fontSize":4.8,"fontWeight":"bold"},"encoding":{"x":{"field":"x","type":"quantitative","title":"Total duration"},"y":{"field":"y","type":"quantitative","title":"Hedges'g","axis":{"values":[-2,-1,0,1,2,3]}},"text":{"field":"lab"}}},
  {"data":{"name":"st"},"transform":[{"filter":"datum.p==5"}],"mark":{"type":"text","align":"left","fontSize":4.3,"fontWeight":"bold","color":"#111"},"encoding":{"x":{"field":"x","type":"quantitative","title":"Total duration"},"y":{"field":"y","type":"quantitative","title":"Hedges'g","axis":{"values":[-2,-1,0,1,2,3]}},"text":{"field":"t"}}}
 ]
},
{
 "width": 235, "height": 165,
 "title": {"text": "Meta-regression analysis of EX+IF on Body mass", "subtitle": "Restricted Cubic Spline with 3 Knots"},
 "layer": [
  {"data":{"name":"vl"},"transform":[{"filter":"datum.p==6 && datum.k=='knot'"}],"mark":{"type":"rule","color":"#a0a0a0","strokeWidth":0.7,"strokeDash":[2,1.5]},"encoding":{"x":{"field":"x","type":"quantitative","title":"EX+IF week"}}},
  {"data":{"name":"vl"},"transform":[{"filter":"datum.p==6 && datum.k=='ref'"}],"mark":{"type":"rule","color":"#000","strokeWidth":1.3,"strokeDash":[1,2.2]},"encoding":{"x":{"field":"x","type":"quantitative","title":"EX+IF week"}}},
  {"data":{"name":"pts"},"transform":[{"filter":"datum.p==6"}],"mark":{"type":"circle","opacity":0.85},"encoding":{
    "x":{"field":"x","type":"quantitative","title":"EX+IF week","scale":{"domain":[-2.5,63.2],"nice":false,"zero":false},"axis":{"values":[0,20,40,60]}},
    "y":{"field":"y","type":"quantitative","title":"Hedges'g","scale":{"domain":[-2.2,3.2],"nice":false,"zero":false},"axis":{"values":[-2,-1,0,1,2,3]}},
    "color":{"field":"y","type":"quantitative","scale":{"domain":[-2,-1,0,1,2,3],"range":["#F7D23A","#F5A56E","#EE84C6","#CF67D6","#9549C2","#5A2D8C"]},"legend":{"orient":"none","legendX":94,"legendY":186,"direction":"horizontal","title":"Effect Size (Hedges'g)","gradientLength":38,"gradientThickness":9,"values":[-2,-1,0,1,2,3]}},
    "size":{"field":"w","type":"quantitative","scale":{"domain":[1,5],"range":[7,46]},"legend":null}}},
  {"data":{"name":"fit"},"transform":[{"filter":"datum.p==6"}],"mark":{"type":"area","color":"#9b7fcc","opacity":0.5},"encoding":{"x":{"field":"x","type":"quantitative","title":"EX+IF week"},"y":{"field":"lo","type":"quantitative","title":"Hedges'g","axis":{"values":[-2,-1,0,1,2,3]}},"y2":{"field":"hi"}}},
  {"data":{"name":"fit"},"transform":[{"filter":"datum.p==6"}],"mark":{"type":"line","color":"#6a3d9a","strokeWidth":1.3},"encoding":{"x":{"field":"x","type":"quantitative","title":"EX+IF week"},"y":{"field":"y","type":"quantitative","title":"Hedges'g","axis":{"values":[-2,-1,0,1,2,3]}}}},
  {"data":{"name":"vl"},"transform":[{"filter":"datum.p==6 && datum.k=='ref'"}],"mark":{"type":"text","color":"#7a1f1f","fontSize":4.8,"fontWeight":"bold"},"encoding":{"x":{"field":"x","type":"quantitative","title":"EX+IF week"},"y":{"field":"y","type":"quantitative","title":"Hedges'g","axis":{"values":[-2,-1,0,1,2,3]}},"text":{"field":"lab"}}},
  {"data":{"name":"st"},"transform":[{"filter":"datum.p==6"}],"mark":{"type":"text","align":"left","fontSize":4.3,"fontWeight":"bold","color":"#111"},"encoding":{"x":{"field":"x","type":"quantitative","title":"EX+IF week"},"y":{"field":"y","type":"quantitative","title":"Hedges'g","axis":{"values":[-2,-1,0,1,2,3]}},"text":{"field":"t"}}}
 ]
}
]
}
